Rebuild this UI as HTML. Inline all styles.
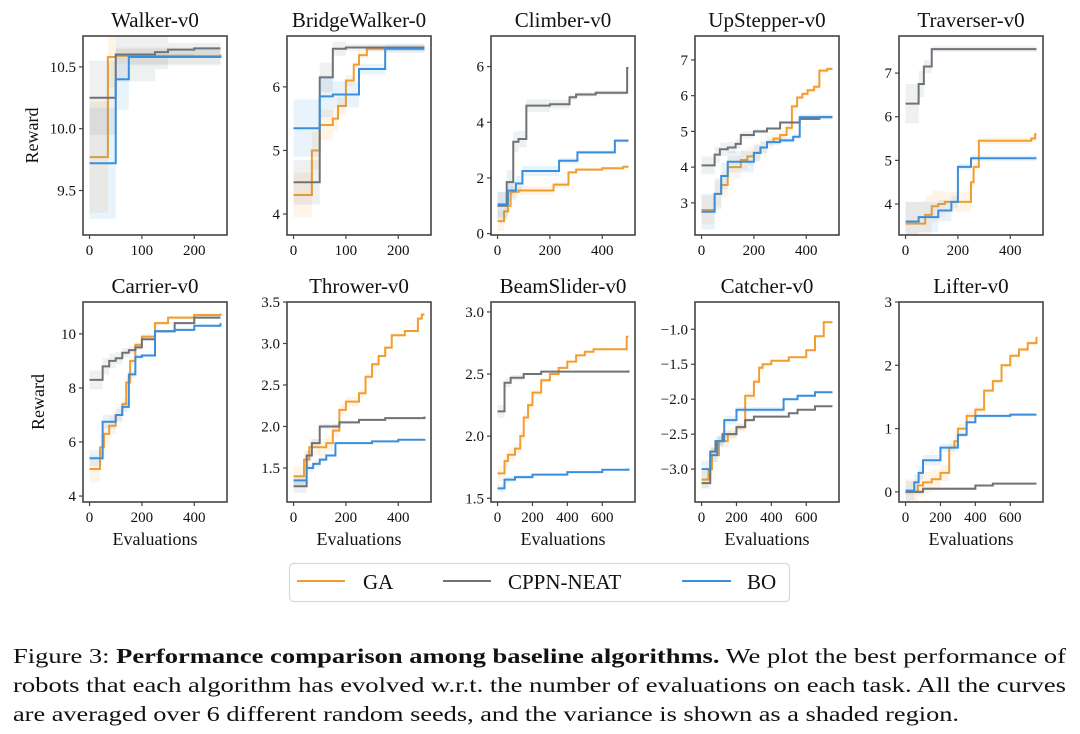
<!DOCTYPE html>
<html><head><meta charset="utf-8"><style>
html,body{margin:0;padding:0;background:#fff;}
svg{display:block;font-family:"Liberation Serif",serif;}
</style></head><body>
<svg id="fig" width="1080" height="734" viewBox="0 0 1080 734" xmlns="http://www.w3.org/2000/svg">
<g id="plots"></g>
<g>
<rect x="289.5" y="563.5" width="500" height="38" rx="4" fill="#fff" stroke="#d8d8d8" stroke-width="1.2"/>
<line x1="297" y1="581" x2="345" y2="581" stroke="#f29e2e" stroke-width="2"/>
<text x="363" y="589" font-size="21" fill="#111">GA</text>
<line x1="443" y1="581" x2="491" y2="581" stroke="#6f7379" stroke-width="2"/>
<text x="508" y="589" font-size="21" fill="#111">CPPN-NEAT</text>
<line x1="682" y1="581" x2="731" y2="581" stroke="#3b8edb" stroke-width="2"/>
<text x="747" y="589" font-size="21" fill="#111">BO</text>
</g>
<g font-size="21.5" fill="#111">
<text x="13" y="663" textLength="1053" lengthAdjust="spacingAndGlyphs">Figure 3: <tspan font-weight="bold">Performance comparison among baseline algorithms.</tspan> We plot the best performance of</text>
<text x="13" y="692" textLength="1053" lengthAdjust="spacingAndGlyphs">robots that each algorithm has evolved w.r.t. the number of evaluations on each task. All the curves</text>
<text x="13" y="721" textLength="946" lengthAdjust="spacingAndGlyphs">are averaged over 6 different random seeds, and the variance is shown as a shaded region.</text>
</g>
</svg>
<script>
const titles=["Walker-v0","BridgeWalker-0","Climber-v0","UpStepper-v0","Traverser-v0","Carrier-v0","Thrower-v0","BeamSlider-v0","Catcher-v0","Lifter-v0"];
const maxEvals=[250,250,500,500,500,500,500,750,750,750];
const yLims=[[9.14,10.75],[3.67,6.8],[-0.05,7.1],[2.1,7.67],[3.29,7.85],[3.78,11.18],[1.09,3.5],[1.47,3.08],[-3.47,-0.61],[-0.16,3.0]];
const yTicks=[[9.5,10.0,10.5],[4,5,6],[0,2,4,6],[3,4,5,6,7],[4,5,6,7],[4,6,8,10],[1.5,2.0,2.5,3.0,3.5],[1.5,2.0,2.5,3.0],[-3.0,-2.5,-2.0,-1.5,-1.0],[0,1,2,3]];
const yDecimals=[1,0,0,0,0,0,1,1,1,0];
const xTicks=[[0,100,200],[0,100,200],[0,200,400],[0,200,400],[0,200,400],[0,200,400],[0,200,400],[0,200,400,600],[0,200,400,600],[0,200,400,600]];
const gaSteps=[
[[0,9.77],[35,10.58],[50,10.59],[250,10.6]],
[[0,4.3],[35,5.0],[50,5.4],[75,5.5],[85,5.7],[100,6.1],[115,6.35],[125,6.5],[140,6.6],[250,6.6]],
[[0,0.45],[25,0.8],[40,1.0],[50,1.5],[80,1.55],[214,1.76],[271,2.2],[300,2.3],[400,2.35],[480,2.4],[500,2.4]],
[[0,2.8],[50,3.25],[75,3.5],[100,4.0],[150,4.2],[175,4.3],[200,4.4],[225,4.55],[250,4.7],[275,4.8],[300,4.9],[325,5.1],[345,5.7],[365,5.95],[385,6.05],[405,6.15],[430,6.25],[450,6.7],[480,6.75],[500,6.75]],
[[0,3.55],[75,3.75],[100,3.95],[125,4.0],[150,4.05],[250,4.5],[260,4.85],[280,5.45],[480,5.5],[495,5.6],[500,5.6]],
[[0,5.0],[40,5.8],[55,6.3],[75,6.6],[100,7.0],[125,7.4],[140,8.2],[155,9.0],[175,9.6],[200,9.9],[250,10.4],[300,10.6],[400,10.7],[500,10.75]],
[[0,1.4],[40,1.6],[60,1.75],[125,1.8],[150,1.95],[175,2.2],[200,2.3],[250,2.4],[275,2.6],[300,2.75],[325,2.85],[350,2.95],[375,3.1],[425,3.15],[475,3.3],[490,3.35],[500,3.35]],
[[0,1.7],[40,1.8],[60,1.85],[100,1.9],[130,2.0],[150,2.15],[175,2.25],[200,2.35],[250,2.45],[300,2.5],[350,2.55],[400,2.6],[450,2.65],[500,2.68],[550,2.7],[740,2.8],[750,2.8]],
[[0,-3.15],[40,-3.0],[60,-2.8],[100,-2.6],[150,-2.5],[200,-2.4],[250,-1.95],[300,-1.75],[330,-1.55],[350,-1.5],[400,-1.45],[500,-1.4],[600,-1.3],[650,-1.1],[700,-0.9],[750,-0.9]],
[[0,0.0],[70,0.1],[100,0.15],[150,0.2],[200,0.3],[250,0.7],[280,0.8],[300,1.0],[350,1.2],[400,1.3],[450,1.6],[500,1.75],[550,2.0],[600,2.15],[650,2.25],[700,2.35],[750,2.45]]];
const neatSteps=[
[[0,10.25],[50,10.6],[125,10.62],[150,10.64],[200,10.65],[250,10.65]],
[[0,4.5],[50,6.15],[75,6.6],[100,6.62],[250,6.62]],
[[0,1.0],[35,1.85],[60,3.3],[80,3.4],[110,4.6],[200,4.65],[275,4.9],[300,5.0],[375,5.06],[495,5.95],[500,5.95]],
[[0,4.05],[50,4.35],[70,4.5],[100,4.55],[130,4.65],[150,4.9],[200,5.0],[250,5.08],[300,5.25],[375,5.35],[450,5.4],[500,5.4]],
[[0,6.3],[50,6.75],[70,7.15],[100,7.55],[500,7.55]],
[[0,8.3],[50,8.8],[75,9.0],[100,9.1],[125,9.3],[150,9.4],[175,9.5],[200,9.8],[250,10.1],[325,10.4],[400,10.6],[500,10.6]],
[[0,1.28],[50,1.65],[70,1.8],[100,2.0],[175,2.05],[250,2.08],[350,2.1],[500,2.12]],
[[0,2.2],[40,2.43],[75,2.47],[150,2.5],[250,2.52],[750,2.53]],
[[0,-3.2],[50,-2.75],[80,-2.6],[120,-2.5],[200,-2.4],[250,-2.3],[300,-2.25],[500,-2.2],[550,-2.15],[650,-2.1],[750,-2.1]],
[[0,0.0],[100,0.05],[400,0.1],[500,0.13],[750,0.13]]];
const boSteps=[
[[0,9.72],[50,10.4],[75,10.58],[250,10.59]],
[[0,5.35],[50,5.85],[75,5.88],[125,6.28],[175,6.6],[250,6.6]],
[[0,1.05],[40,1.55],[70,1.8],[95,2.25],[235,2.62],[305,2.92],[448,3.34],[500,3.34]],
[[0,2.75],[50,3.25],[75,3.75],[100,4.15],[200,4.4],[225,4.55],[250,4.7],[300,4.75],[350,4.85],[375,5.4],[500,5.4]],
[[0,3.6],[50,3.7],[125,3.85],[175,4.05],[200,4.85],[250,5.05],[500,5.05]],
[[0,5.4],[50,6.75],[100,7.0],[125,7.3],[150,8.5],[175,9.15],[200,9.2],[250,10.1],[325,10.15],[400,10.3],[500,10.4]],
[[0,1.35],[50,1.5],[75,1.55],[100,1.6],[125,1.65],[160,1.8],[300,1.82],[400,1.84],[500,1.85]],
[[0,1.58],[40,1.65],[100,1.67],[200,1.69],[400,1.71],[600,1.73],[750,1.74]],
[[0,-3.0],[50,-2.8],[90,-2.6],[130,-2.3],[200,-2.15],[470,-2.0],[550,-1.95],[650,-1.9],[750,-1.9]],
[[0,0.02],[50,0.15],[75,0.3],[100,0.5],[200,0.7],[300,0.9],[350,1.1],[400,1.2],[600,1.22],[750,1.22]]];
const gaSpread=[0.45,0.35,0.35,0.4,0.5,0.5,0.12,0.06,0.12,0.2];
const neatSpread=[0.3,0.35,0.5,0.25,0.45,0.35,0.08,0.05,0.08,0.04];
const boSpread=[0.45,0.45,0.45,0.5,0.45,0.3,0.05,0.03,0.12,0.15];

const NS="http://www.w3.org/2000/svg";
const colX=[83,287,491,695,899], rowY=[[36,235],[302,502]], W=144;
const root=document.getElementById('plots');
function mk(tag,attrs,parent){const e=document.createElementNS(NS,tag);for(const k in attrs)e.setAttribute(k,attrs[k]);parent.appendChild(e);return e;}
for(let p=0;p<10;p++){
  const r=Math.floor(p/5),c=p%5;
  const x0=colX[c],y0=rowY[r][0],y1=rowY[r][1];
  const N=maxEvals[p],xmin=-0.05*N,xmax=1.05*N,[ymin,ymax]=yLims[p];
  const sx=v=>x0+(v-xmin)/(xmax-xmin)*W;
  const sy=v=>y1-(v-ymin)/(ymax-ymin)*(y1-y0);
  const g=mk('g',{},root);
  
  
  const clipId='clip'+p;
  const cp=mk('clipPath',{id:clipId},g);mk('rect',{x:x0,y:y0,width:W,height:y1-y0},cp);
  const t=mk('text',{x:x0+W/2,y:y0-9,'text-anchor':'middle','font-size':'21',fill:'#111'},g);t.textContent=titles[p];
  
  
  const series=[[gaSteps[p],gaSpread[p],'#f29e2e','ga'],[neatSteps[p],neatSpread[p],'#6f7379','cppn-neat'],[boSteps[p],boSpread[p],'#3b8edb','bo']];
  const plotG=mk('g',{'clip-path':'url(#'+clipId+')'},g);
  series.forEach(([st,sp,col,nm])=>{
    let up=[],lo=[],line=[];
    for(let i=0;i<st.length;i++){
      const xa=st[i][0],xb=i+1<st.length?st[i+1][0]:st[i][0],v=st[i][1];
      const f=i/Math.max(1,st.length-1);
      const s=sp*(1-0.85*Math.min(1,f*1.6));
      up.push([sx(xa),sy(v+s)],[sx(xb),sy(v+s)]);
      lo.push([sx(xa),sy(v-s)],[sx(xb),sy(v-s)]);
      line.push([sx(xa),sy(v)],[sx(xb),sy(v)]);
    }
    const band=mk('path',{d:'M'+up.map(q=>q.join(',')).join('L')+'L'+lo.reverse().map(q=>q.join(',')).join('L')+'Z',fill:col,'fill-opacity':'0.11'},plotG);
    
    
    const ln=mk('path',{d:'M'+line.map(q=>q.join(',')).join('L'),fill:'none',stroke:col,'stroke-width':'2'},plotG);
    
    
  });
  const fr=mk('rect',{x:x0,y:y0,width:W,height:y1-y0,fill:'none',stroke:'#444','stroke-width':'1.6'},g);
  
  
  yTicks[p].forEach(v=>{
    const y=sy(v);
    mk('line',{x1:x0-4,x2:x0,y1:y,y2:y,stroke:'#444','stroke-width':'1.2'},g);
    const tl=mk('text',{x:x0-7,y:y+5,'text-anchor':'end','font-size':'15',fill:'#111'},g);
    tl.textContent=(v<0?'\u2212':'')+Math.abs(v).toFixed(yDecimals[p]);
    
    
  });
  xTicks[p].forEach(v=>{
    const x=sx(v);
    mk('line',{x1:x,x2:x,y1:y1,y2:y1+4,stroke:'#444','stroke-width':'1.2'},g);
    const tl=mk('text',{x:x,y:y1+20,'text-anchor':'middle','font-size':'15',fill:'#111'},g);
    tl.textContent=v;
    
    
  });
  if(c===0){
    const cy=(y0+y1)/2, lx=r===0?38:44;
    const yl=mk('text',{x:lx,y:cy,'text-anchor':'middle','font-size':'18',fill:'#111',transform:'rotate(-90 '+lx+' '+cy+')'},g);
    yl.textContent='Reward';
    
    
  }
  if(r===1){
    const xl=mk('text',{x:x0+W/2,y:545,'text-anchor':'middle','font-size':'18',fill:'#111'},g);
    xl.textContent='Evaluations';
    
    
  }
}
</script>
</body></html>
